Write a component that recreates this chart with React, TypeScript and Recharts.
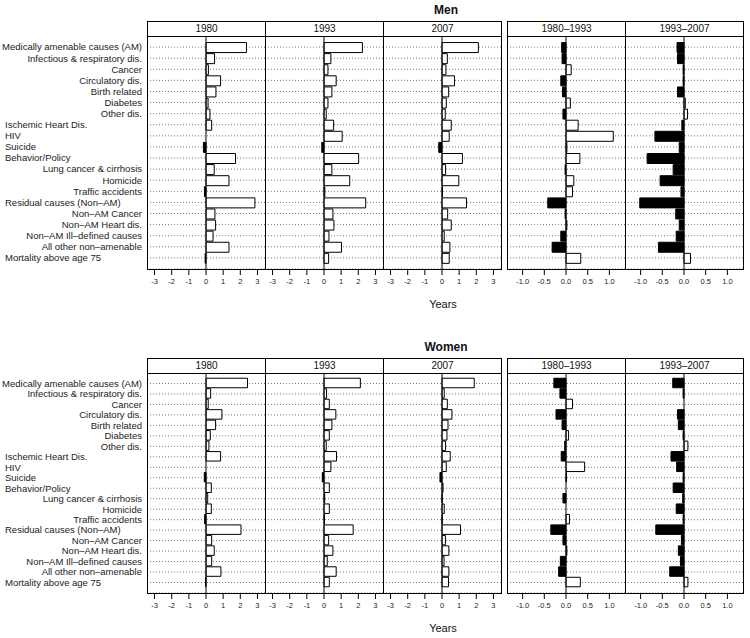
import React from 'react';
import { BarChart, Bar, XAxis, YAxis, CartesianGrid, ReferenceLine, Cell } from 'recharts';

const causes = [
  'Medically amenable causes (AM)',
  'Infectious & respiratory dis.',
  'Cancer',
  'Circulatory dis.',
  'Birth related',
  'Diabetes',
  'Other dis.',
  'Ischemic Heart Dis.',
  'HIV',
  'Suicide',
  'Behavior/Policy',
  'Lung cancer & cirrhosis',
  'Homicide',
  'Traffic accidents',
  'Residual causes (Non\u2013AM)',
  'Non\u2013AM Cancer',
  'Non\u2013AM Heart dis.',
  'Non\u2013AM Ill\u2013defined causes',
  'All other non\u2013amenable',
  'Mortality above age 75',
];

// group headings sit flush left, the rest are right aligned
const headingCauses = [
  'Ischemic Heart Dis.',
  'HIV',
  'Suicide',
  'Behavior/Policy',
  'Residual causes (Non\u2013AM)',
  'Mortality above age 75',
];

// years of life expectancy gap
const men1980 = [2.36, 0.5, 0.14, 0.85, 0.58, 0.12, 0.23, 0.33, 0, -0.15, 1.72, 0.48, 1.34, -0.09, 2.85, 0.52, 0.56, 0.41, 1.34, -0.05];
const men1993 = [2.24, 0.4, 0.23, 0.71, 0.46, 0.23, 0.13, 0.56, 1.06, -0.13, 2.02, 0.46, 1.5, 0.05, 2.43, 0.52, 0.58, 0.29, 1.02, 0.27];
const men2007 = [2.12, 0.31, 0.23, 0.73, 0.39, 0.25, 0.19, 0.54, 0.42, -0.19, 1.19, 0.21, 0.98, 0.03, 1.43, 0.33, 0.54, 0.13, 0.46, 0.42];
const men8093 = [-0.1, -0.09, 0.12, -0.12, -0.08, 0.1, -0.07, 0.28, 1.09, 0.02, 0.32, -0.02, 0.18, 0.15, -0.42, -0.02, 0.02, -0.12, -0.32, 0.34];
const men9307 = [-0.16, -0.15, -0.02, -0.02, -0.15, 0.03, 0.08, -0.05, -0.67, -0.11, -0.85, -0.25, -0.55, -0.07, -1.02, -0.19, -0.11, -0.18, -0.59, 0.15];

const women1980 = [2.42, 0.27, 0.13, 0.93, 0.56, 0.25, 0.17, 0.85, 0, -0.1, 0.31, 0.1, 0.31, -0.08, 2.04, 0.33, 0.48, 0.33, 0.87, -0.02];
const women1993 = [2.12, 0.15, 0.31, 0.69, 0.46, 0.31, 0.13, 0.73, 0.4, -0.1, 0.31, 0.04, 0.31, 0.03, 1.7, 0.27, 0.52, 0.19, 0.71, 0.31];
const women2007 = [1.88, 0.13, 0.31, 0.58, 0.35, 0.29, 0.21, 0.48, 0.25, -0.12, 0.06, 0.01, 0.13, 0.01, 1.08, 0.2, 0.4, 0.12, 0.4, 0.38];
const women8093 = [-0.28, -0.14, 0.15, -0.23, -0.09, 0.06, -0.03, -0.11, 0.43, 0.01, 0, -0.07, 0, 0.08, -0.35, -0.07, 0.02, -0.13, -0.17, 0.33];
const women9307 = [-0.26, -0.02, 0, -0.15, -0.13, -0.02, 0.09, -0.3, -0.17, -0.02, -0.25, -0.03, -0.18, -0.02, -0.65, -0.06, -0.13, -0.08, -0.33, 0.09];

const levelTicks = [-3, -2, -1, 0, 1, 2, 3];
const changeTicks = [-1, -0.5, 0, 0.5, 1];

const rows = causes.map((cause, i) => ({
  cause,
  m1980: men1980[i],
  m1993: men1993[i],
  m2007: men2007[i],
  m8093: men8093[i],
  m9307: men9307[i],
  w1980: women1980[i],
  w1993: women1993[i],
  w2007: women2007[i],
  w8093: women8093[i],
  w9307: women9307[i],
}));

const FONT = '"Liberation Sans", Arial, Helvetica, sans-serif';
const PANEL_W = 118;
const AXIS_H = 30;

const panels = [
  { strip: '1980', key: '1980', left: 147, change: false },
  { strip: '1993', key: '1993', left: 265, change: false },
  { strip: '2007', key: '2007', left: 383, change: false },
  { strip: '1980\u20131993', key: '8093', left: 507, change: true },
  { strip: '1993\u20132007', key: '9307', left: 625, change: true },
];

const sections = [
  { title: 'Men', prefix: 'm', titleY: 10, stripTop: 21, plotTop: 36, plotH: 233, yearsY: 304, barSize: 10 },
  { title: 'Women', prefix: 'w', titleY: 347, stripTop: 358, plotTop: 373, plotH: 220, yearsY: 628, barSize: 9.5 },
];

const CauseTick = (props: any) => {
  const { y, payload } = props;
  const heading = headingCauses.includes(payload.value);
  return (
    <text
      x={heading ? 5 : 142}
      y={y}
      dy="0.35em"
      textAnchor={heading ? 'start' : 'end'}
      fontSize={9.5}
      fontFamily={FONT}
      fill="#222"
    >
      {payload.value}
    </text>
  );
};

const fmtLevel = (v: number) => String(v);
const fmtChange = (v: number) => v.toFixed(1);

function Panel({ dataKey, left, top, height, strip, stripTop, change, withLabels, barSize }: any) {
  const chartLeft = withLabels ? 0 : left;
  const chartW = withLabels ? left + PANEL_W : PANEL_W;
  const pad = height / 42;
  return (
    <>
      <div style={{ position: 'absolute', left: chartLeft, top }}>
        <BarChart
          width={chartW}
          height={height + AXIS_H}
          data={rows}
          layout="vertical"
          margin={{ top: 0, right: 0, bottom: 0, left: 0 }}
          barSize={barSize}
        >
          <CartesianGrid horizontal vertical={false} stroke="#777" strokeDasharray="1 2" />
          <XAxis
            type="number"
            domain={change ? [-1.36, 1.36] : [-3.44, 3.44]}
            ticks={change ? changeTicks : levelTicks}
            tickFormatter={change ? fmtChange : fmtLevel}
            allowDataOverflow
            interval={0}
            axisLine={false}
            tickSize={6}
            tickMargin={4}
            tick={{ fontSize: 7.5, fill: '#222', fontFamily: FONT }}
            tickLine={{ stroke: '#000' }}
            height={AXIS_H}
          />
          <YAxis
            type="category"
            dataKey="cause"
            width={withLabels ? left : 0}
            hide={!withLabels}
            padding={{ top: pad, bottom: pad }}
            axisLine={false}
            tickLine={false}
            interval={0}
            tick={<CauseTick />}
          />
          <Bar dataKey={dataKey} isAnimationActive={false} stroke="#000" strokeWidth={1}>
            {rows.map((r: any, i) => (
              <Cell key={i} fill={r[dataKey] < 0 ? '#000' : '#fff'} />
            ))}
          </Bar>
          <ReferenceLine x={0} stroke="#000" />
        </BarChart>
      </div>
      <div
        style={{
          position: 'absolute',
          left,
          top,
          width: PANEL_W + 1,
          height: height + 1,
          border: '1px solid #000',
          boxSizing: 'border-box',
          pointerEvents: 'none',
        }}
      />
      <div
        style={{
          position: 'absolute',
          left,
          top: stripTop,
          width: PANEL_W + 1,
          height: top - stripTop + 1,
          border: '1px solid #000',
          boxSizing: 'border-box',
          background: '#fff',
          textAlign: 'center',
          fontSize: 10,
          lineHeight: `${top - stripTop - 1}px`,
          color: '#111',
        }}
      >
        {strip}
      </div>
    </>
  );
}

export default function App() {
  return (
    <div
      style={{
        position: 'absolute',
        left: 0,
        top: 0,
        width: 750,
        height: 638,
        background: '#fff',
        fontFamily: FONT,
      }}
    >
      {sections.map((s) => (
        <React.Fragment key={s.title}>
          <div
            style={{
              position: 'absolute',
              left: 346,
              width: 200,
              top: s.titleY - 8,
              textAlign: 'center',
              fontWeight: 'bold',
              fontSize: 12,
              lineHeight: '16px',
              color: '#111',
            }}
          >
            {s.title}
          </div>
          {panels.map((p, i) => (
            <Panel
              key={p.key}
              dataKey={s.prefix + p.key}
              left={p.left}
              top={s.plotTop}
              height={s.plotH}
              strip={p.strip}
              stripTop={s.stripTop}
              change={p.change}
              withLabels={i === 0}
              barSize={s.barSize}
            />
          ))}
          <div
            style={{
              position: 'absolute',
              left: 343,
              width: 200,
              top: s.yearsY - 8,
              textAlign: 'center',
              fontSize: 11,
              lineHeight: '16px',
              color: '#111',
            }}
          >
            Years
          </div>
        </React.Fragment>
      ))}
    </div>
  );
}
